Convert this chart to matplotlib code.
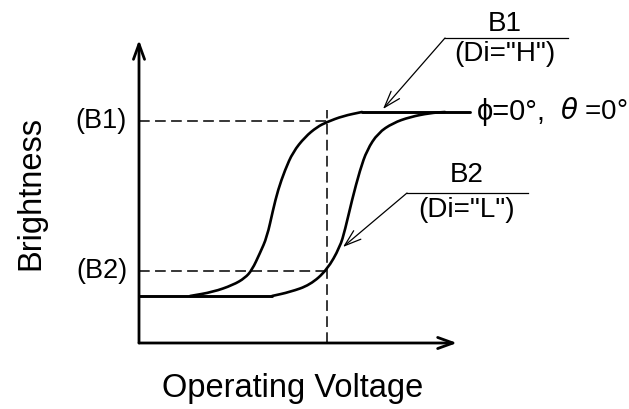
import matplotlib.pyplot as plt
from matplotlib.path import Path
from matplotlib.patches import PathPatch

plt.rcParams['font.family'] = ['Liberation Sans', 'DejaVu Sans']

# curve for Di="H" (B1), operating voltage vs brightness
v_high = [0.51, 0.74, 0.94, 1.06, 1.13, 1.21, 1.28, 1.34, 1.39, 1.46, 1.54, 1.66, 1.78, 1.88, 2.04, 2.23]
b_high = [0.47, 0.51, 0.58, 0.65, 0.73, 0.90, 1.06, 1.33, 1.53, 1.73, 1.91, 2.06, 2.16, 2.21, 2.27, 2.31]

# curve for Di="L" (B2)
v_low = [1.33, 1.51, 1.71, 1.88, 2.01, 2.06, 2.13, 2.21, 2.28, 2.39, 2.54, 2.71, 2.91, 3.06]
b_low = [0.47, 0.51, 0.58, 0.73, 0.96, 1.13, 1.43, 1.73, 1.93, 2.10, 2.20, 2.26, 2.30, 2.31]

# flat parts shared by both curves
v_bottom = [0.00, 1.33]
b_bottom = [0.47, 0.47]
v_top = [2.23, 3.31]
b_top = [2.31, 2.31]

level_b1 = 2.22
level_b2 = 0.72
v_operating = 1.88
x_axis_end = 3.18
y_axis_end = 3.03


def smooth_path(xs, ys):
    # quadratic bezier through midpoints, the read points act as control points
    pts = list(zip(xs, ys))
    verts = [pts[0]]
    codes = [Path.MOVETO]
    mid = lambda a, b: ((a[0] + b[0]) / 2, (a[1] + b[1]) / 2)
    verts.append(mid(pts[0], pts[1]))
    codes.append(Path.LINETO)
    for i in range(1, len(pts) - 1):
        verts += [pts[i], mid(pts[i], pts[i + 1])]
        codes += [Path.CURVE3, Path.CURVE3]
    verts.append(pts[-1])
    codes.append(Path.LINETO)
    return Path(verts, codes)


fig = plt.figure(figsize=(6.29, 4.09), dpi=100)
ax = fig.add_axes([0, 0, 1, 1])
ax.set_xlim(-1.39, 4.90)
ax.set_ylim(-0.66, 3.43)
ax.axis('off')

axis_arrow = dict(arrowstyle='->,head_length=0.55,head_width=0.2', lw=2, color='black',
                  shrinkA=0, shrinkB=0, mutation_scale=20)
ax.annotate('', xy=(0, y_axis_end), xytext=(0, 0), arrowprops=axis_arrow)
ax.annotate('', xy=(x_axis_end, 0), xytext=(0, 0), arrowprops=axis_arrow)

dash = dict(color='black', lw=1.1, dashes=(7, 3.5))
ax.plot([0, v_operating], [level_b1, level_b1], **dash)
ax.plot([0, v_operating], [level_b2, level_b2], **dash)
ax.plot([v_operating, v_operating], [0, 2.33], **dash)

for xs, ys in [(v_high, b_high), (v_low, b_low)]:
    ax.add_patch(PathPatch(smooth_path(xs, ys), fill=False, lw=1.9, edgecolor='black',
                           capstyle='round', joinstyle='round'))
ax.plot(v_bottom, b_bottom, color='black', lw=2.1, solid_capstyle='round')
ax.plot(v_top, b_top, color='black', lw=2.1, solid_capstyle='round')

ax.text(-0.12, level_b1, '(B1)', ha='right', va='center', fontsize=19.5)
ax.text(-0.12, level_b2, '(B2)', ha='right', va='center', fontsize=19.5)
ax.text(-1.08, 1.50, 'Brightness', rotation=90, ha='center', va='center', fontsize=23.5)
ax.text(1.54, -0.45, 'Operating Voltage', ha='center', va='center', fontsize=23.5)

ax.text(3.38, 2.31, 'ϕ=0°,', ha='left', va='center', fontsize=21)
ax.text(4.21, 2.31, r'$\theta$ =0°', ha='left', va='center', fontsize=20)

leader = dict(arrowstyle='->,head_length=0.6,head_width=0.2', lw=0.9, color='black',
              shrinkA=0, shrinkB=0, mutation_scale=20)
# B1 label
ax.plot([3.06, 4.29], [3.05, 3.05], color='black', lw=0.9)
ax.annotate('', xy=(2.44, 2.34), xytext=(3.06, 3.05), arrowprops=leader)
ax.text(3.66, 3.19, 'B1', ha='center', va='center', fontsize=20)
ax.text(3.66, 2.89, '(Di="H")', ha='center', va='center', fontsize=20)

# B2 label
ax.plot([2.68, 3.89], [1.50, 1.50], color='black', lw=0.9)
ax.annotate('', xy=(2.04, 0.96), xytext=(2.68, 1.50), arrowprops=leader)
ax.text(3.28, 1.68, 'B2', ha='center', va='center', fontsize=20)
ax.text(3.28, 1.33, '(Di="L")', ha='center', va='center', fontsize=20)

fig.savefig('out.png', dpi=100)
